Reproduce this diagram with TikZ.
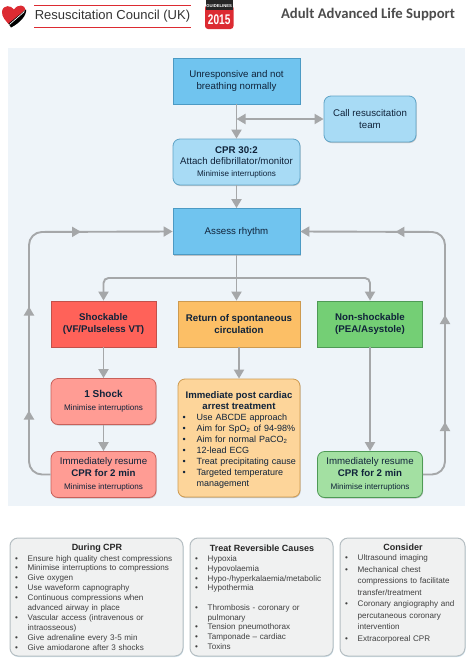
\documentclass[tikz,border=0pt]{standalone}
\usepackage{xcolor}
\usepackage{fontspec}
\setmainfont{Liberation Sans}
\newfontfamily\titlefont{Carlito}
\usetikzlibrary{arrows.meta,shadows,decorations.markings}
\definecolor{panel}{HTML}{EEF4F9}
\definecolor{flowgrey}{HTML}{A5A7A9}
\definecolor{inkblue}{HTML}{10233A}
\definecolor{bluefill}{HTML}{70C4EF}
\definecolor{blueline}{HTML}{4C9AC4}
\definecolor{skyfill}{HTML}{A8DBF5}
\definecolor{skyline}{HTML}{5FA3C6}
\definecolor{redfill}{HTML}{FF6259}
\definecolor{redline}{HTML}{C2504A}
\definecolor{pinkfill}{HTML}{FF9C94}
\definecolor{pinkline}{HTML}{C8605A}
\definecolor{orangefill}{HTML}{FCBF66}
\definecolor{orangeline}{HTML}{CD9A50}
\definecolor{paleorange}{HTML}{FDD59A}
\definecolor{greenfill}{HTML}{74CF75}
\definecolor{greenline}{HTML}{4E9A55}
\definecolor{palegreen}{HTML}{A3E0A2}
\definecolor{sidefill}{HTML}{F0F1F1}
\definecolor{sideline}{HTML}{B5BEC2}
\definecolor{logored}{HTML}{DC2B32}
\newcommand{\bul}[2][12.5pt]{\hangindent=#1\hangafter=1\noindent\hbox to #1{\textbullet\hfil}#2\par}
\newcommand{\subline}[1]{{\fontsize{8.1}{9}\selectfont #1}}
\tikzset{
  base/.style={align=center,text=inkblue,inner sep=0pt,font=\fontsize{9.7}{11.7}\selectfont,
    drop shadow={shadow xshift=0.6pt,shadow yshift=-1pt,opacity=.35,fill=black!60}},
  sharpbox/.style={base,draw,line width=.8pt,minimum height=46pt},
  softbox/.style={sharpbox,rounded corners=7pt},
  wide/.style={minimum width=127pt},
  narrow/.style={minimum width=105pt},
  flow/.style={draw=flowgrey,line width=1.9pt,-{Triangle[length=9pt,width=10pt]}},
  both/.style={flow,{Triangle[length=9pt,width=10pt]}-{Triangle[length=9pt,width=10pt]}},
  midtips/.style n args={3}{postaction={decorate,decoration={markings,
    mark=at position #1 with {\arrow[flowgrey]{Triangle[length=9pt,width=10pt]}},
    mark=at position #2 with {\arrow[flowgrey]{Triangle[length=9pt,width=10pt]}},
    mark=at position #3 with {\arrow[flowgrey]{Triangle[length=9pt,width=10pt]}}}}},
  sidebox/.style={draw=sideline,fill=sidefill,line width=1pt,rounded corners=8pt,
    drop shadow={shadow xshift=.5pt,shadow yshift=-1pt,opacity=.25,fill=blueline}},
  sidehead/.style={font=\fontsize{9}{10}\selectfont\bfseries,text=black!85,inner sep=0pt},
  sidelist/.style={anchor=north west,inner sep=0pt,text width=170pt,text=black!75},
}
\begin{document}
\begin{tikzpicture}[x=1pt,y=-1pt]
\useasboundingbox (0,0) rectangle (474,662);
% header
\fill[logored] (14,9.5) .. controls (11,5) and (3,4.5) .. (2,11.5) .. controls (1.5,17) and (6,21) .. (9.5,25)
  -- (25.5,9.5) .. controls (25,5) and (18,3.5) .. (14,9.5) -- cycle;
\fill[black] (26,9.5) .. controls (27,15) and (20,23) .. (11,27.5) -- (8.5,23.5) -- cycle;
\draw[white,line width=.7pt] (24.5,11.5) -- (9.5,24.5);
\draw[logored,line width=1pt] (34,5.5) -- (191,5.5);
\draw[logored,line width=1pt] (34,27.5) -- (191,27.5);
\node[inner sep=0pt,text=black!80,font=\fontsize{13}{14}\selectfont] (council) at (112.5,16.5) {Resuscitation Council (UK)};
\fill[logored,rounded corners=3pt] (205,5) rectangle (233.5,29);
\fill[black!85] (205.5,0) rectangle (233,10);
\node[inner sep=0pt,text=white,font=\fontsize{4.2}{5}\selectfont\bfseries] (guide) at (219.2,6.5) {GUIDELINES};
\node[inner sep=0pt,text=white,font=\fontsize{14}{15}\selectfont\bfseries] (year) at (219.2,19.5) {\addfontfeature{FakeStretch=.72}2015};
\node[inner sep=0pt,text=black!70,font=\fontsize{14.7}{15}\selectfont\titlefont\bfseries] (heading) at (368,14) {Adult Advanced Life Support};
\fill[panel] (8,48) rectangle (465,506);
% flow chart boxes
\node[sharpbox,wide,draw=blueline,fill=bluefill] (start) at (236.5,81) {Unresponsive and not\\breathing normally};
\node[softbox,draw=skyline,fill=skyfill,minimum width=92pt] (call) at (370,119) {Call resuscitation\\team};
\node[softbox,wide,draw=skyline,fill=skyfill] (cpr) at (236.5,162) {\textbf{CPR 30:2}\\Attach defibrillator/monitor\\[-.5pt]\subline{Minimise interruptions}};
\node[sharpbox,wide,draw=blueline,fill=bluefill] (assess) at (236.5,231.5) {Assess rhythm};
\node[sharpbox,narrow,draw=redline,fill=redfill] (shock) at (103.5,324) {\textbf{Shockable}\\\textbf{(VF/Pulseless VT)}};
\node[sharpbox,minimum width=122pt,draw=orangeline,fill=orangefill] (rosc) at (239,324) {\textbf{Return of spontaneous}\\\textbf{circulation}};
\node[sharpbox,narrow,draw=greenline,fill=greenfill] (nonshock) at (370,324) {\textbf{Non-shockable}\\\textbf{(PEA/Asystole)}};
\node[softbox,narrow,draw=pinkline,fill=pinkfill] (oneshock) at (103.5,401.5) {{\fontsize{10}{12}\selectfont\textbf{1 Shock}}\\[1pt]\subline{Minimise interruptions}};
\node[softbox,narrow,draw=pinkline,fill=pinkfill] (resumered) at (103.5,474.5) {Immediately resume\\\textbf{CPR for 2 min}\\[1pt]\subline{Minimise interruptions}};
\node[softbox,minimum width=122pt,minimum height=118pt,draw=orangeline,fill=paleorange] (post) at (239,438) {};
\node[inner sep=0pt,align=center,text=inkblue,font=\fontsize{9.6}{11.7}\selectfont\bfseries] (posthead) at (239,400.5) {Immediate post cardiac\\arrest treatment};
\node[sidelist,text width=118pt,text=inkblue,font=\fontsize{9}{11}\selectfont] (postlist) at (182.5,413.5) {%
  \bul[14pt]{Use ABCDE approach}
  \bul[14pt]{Aim for SpO\textsubscript{2} of 94-98\%}
  \bul[14pt]{Aim for normal PaCO\textsubscript{2}}
  \bul[14pt]{12-lead ECG}
  \bul[14pt]{Treat precipitating cause}
  \bul[14pt]{Targeted temperature\newline management}};
\node[softbox,narrow,draw=greenline,fill=palegreen] (resumegreen) at (370,474.5) {Immediately resume\\\textbf{CPR for 2 min}\\[1pt]\subline{Minimise interruptions}};
% connectors
\coordinate (teamjoin) at (start.south |- call.west);
\coordinate (split) at (236.5,278);
\coordinate (leftturn) at (29,232);
\coordinate (rightturn) at (445,232);
\draw[flow] (start) -- (cpr);
\draw[both] (teamjoin) -- (call.west);
\draw[flow] (cpr) -- (assess);
\draw[flow] (assess) -- (split |- shock.north);
\draw[flow,rounded corners=5pt] (split) -| (shock.north);
\draw[flow,rounded corners=5pt] (split) -| (nonshock.north);
\draw[flow] (shock) -- (oneshock);
\draw[flow] (rosc) -- (post);
\draw[flow] (oneshock) -- (resumered);
\draw[flow] (nonshock) -- (resumegreen);
\draw[flow,rounded corners=13pt,midtips={80pt}{184pt}{305pt}] (resumered.west) -| (leftturn) -- (assess.west);
\draw[flow,rounded corners=13pt,midtips={69pt}{176pt}{303pt}] (resumegreen.east) -| (rightturn) -- (assess.east);
% side panels
\node[sidebox,minimum width=173pt,minimum height=118pt] (during) at (96.5,597) {};
\node[sidehead] (duringhead) at (97,548) {During CPR};
\node[sidelist,font=\fontsize{8.1}{9.9}\selectfont] (duringlist) at (15,555) {%
  \bul{Ensure high quality chest compressions}
  \bul{Minimise interruptions to compressions}
  \bul{Give oxygen}
  \bul{Use waveform capnography}
  \bul{Continuous compressions when\newline advanced airway in place}
  \bul{Vascular access (intravenous or\newline intraosseous)}
  \bul{Give adrenaline every 3-5 min}
  \bul{Give amiodarone after 3 shocks}};
\node[sidebox,minimum width=143pt,minimum height=118pt] (causes) at (261.5,597) {};
\node[sidehead] (causeshead) at (262,548) {Treat Reversible Causes};
\node[sidelist,font=\fontsize{8.1}{9.8}\selectfont] (causeslist) at (195,555.5) {%
  \bul{Hypoxia}
  \bul{Hypovolaemia}
  \bul{Hypo-/hyperkalaemia/metabolic}
  \bul{Hypothermia}
  \vspace{9.5pt}
  \bul{Thrombosis - coronary or\newline pulmonary}
  \bul{Tension pneumothorax}
  \bul{Tamponade – cardiac}
  \bul{Toxins}};
\node[sidebox,minimum width=125pt,minimum height=118pt] (consider) at (402.5,597) {};
\node[sidehead] (considerhead) at (403,547) {Consider};
\node[sidelist,font=\fontsize{8.1}{11.5}\selectfont] (considerlist) at (345,554.5) {%
  \bul{Ultrasound imaging}
  \bul{Mechanical chest\newline compressions to facilitate\newline transfer/treatment}
  \bul{Coronary angiography and\newline percutaneous coronary\newline intervention}
  \bul{Extracorporeal CPR}};
\end{tikzpicture}
\end{document}
